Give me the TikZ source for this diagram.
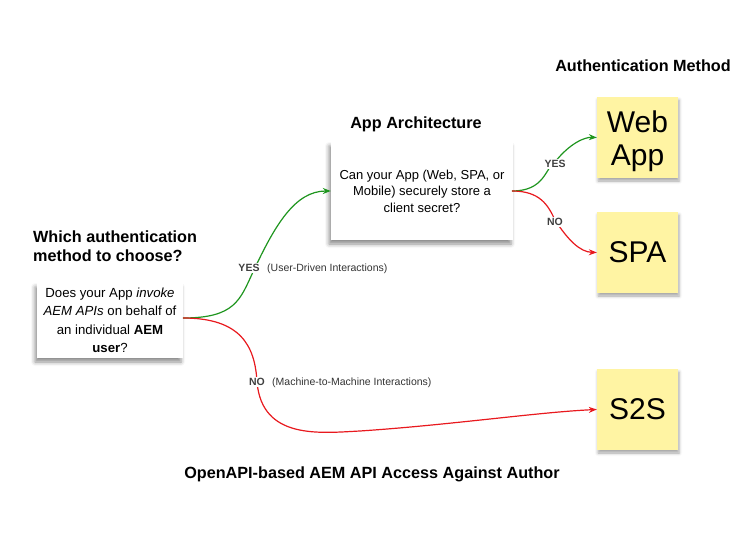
\documentclass[tikz,border=0pt]{standalone}
\usepackage{fontspec}
\setmainfont{Liberation Sans}
\usetikzlibrary{shadows.blur,arrows.meta}
\definecolor{sticky}{HTML}{FFF4A3}
\definecolor{gline}{HTML}{1E951E}
\definecolor{rline}{HTML}{E8191E}
\tikzset{
  x=1pt,y=-1pt,
  heading/.style={font=\fontsize{16.2}{19}\selectfont\bfseries, align=left},
  qbox/.style={fill=white, blur shadow={shadow xshift=-2pt, shadow yshift=-4pt, shadow blur radius=4pt, shadow opacity=45}, inner sep=0pt, align=center},
  note/.style={fill=sticky, blur shadow={shadow xshift=1pt, shadow yshift=-3pt, shadow blur radius=3pt, shadow opacity=35}, minimum width=81pt, minimum height=81pt, inner sep=0pt, align=center, font=\fontsize{30}{33}\selectfont},
  yesline/.style={draw=gline, line width=1.2pt, -{Stealth[length=8pt,width=6pt]}},
  noline/.style={draw=rline, line width=1.2pt, -{Stealth[length=8pt,width=6pt]}},
  lab/.style={fill=white, inner sep=1.5pt, font=\fontsize{10.5}{12}\selectfont\bfseries, text=black!75},
  sub/.style={font=\fontsize{10.5}{12}\selectfont, text=black!80, anchor=west, inner sep=0pt}
}
\begin{document}
\begin{tikzpicture}
\useasboundingbox (0,0) rectangle (750,535);
% headings
\node[heading, anchor=north west, inner sep=0pt] (h1) at (33,231) {Which authentication\\method to choose?};
\node[heading] (h2) at (416,124) {App Architecture};
\node[heading] (h3) at (643,66) {Authentication Method};
\node[font=\fontsize{16.2}{19}\selectfont\bfseries] (h4) at (372,474) {OpenAPI-based AEM API Access Against Author};
% question boxes
\node[qbox, minimum width=146pt, minimum height=75pt, font=\fontsize{13.2}{18.5}\selectfont] (q1) at (110,320.5)
  {Does your App \textit{invoke}\\\textit{AEM APIs} on behalf of\\an individual \textbf{AEM}\\\textbf{user}?};
\node[qbox, minimum width=182pt, minimum height=98pt, font=\fontsize{13}{16.5}\selectfont] (q2) at (422,191)
  {Can your App (Web, SPA, or\\Mobile) securely store a\\client secret?};
% sticky notes
\node[note] (web) at (637.5,137.5) {\rule{0pt}{29pt}Web\\App};
\node[note] (spa) at (637.5,252.5) {SPA};
\node[note] (s2s) at (637.5,409.5) {S2S};
% connectors
\coordinate (q1o) at (183,318);
\coordinate (q2o) at (512,191);
\draw[yesline] (q1o) .. controls (235,318) and (240,300) .. (253,272)
   .. controls (275,225) and (295,191) .. (q2.west);
\draw[noline] (q1o) .. controls (240,318) and (255,345) .. (257,382)
   .. controls (262,440) and (320,433) .. (360,431)
   .. controls (450,425) and (540,412) .. (s2s.west);
\draw[yesline] (q2o) .. controls (545,191) and (545,168) .. (555,162)
   .. controls (570,143) and (585,137) .. (web.west);
\draw[noline] (q2o) .. controls (540,191) and (548,205) .. (555,220)
   .. controls (568,240) and (580,252) .. (spa.west);
% labels
\node[lab] (ly1) at (249,268) {YES};
\node[sub] (sy1) at (267,269) {(User-Driven Interactions)};
\node[lab] (ln1) at (257,382) {NO};
\node[sub] (sn1) at (272,383) {(Machine-to-Machine Interactions)};
\node[lab] (ly2) at (555,164) {YES};
\node[lab] (ln2) at (555,222) {NO};
\end{tikzpicture}
\end{document}
